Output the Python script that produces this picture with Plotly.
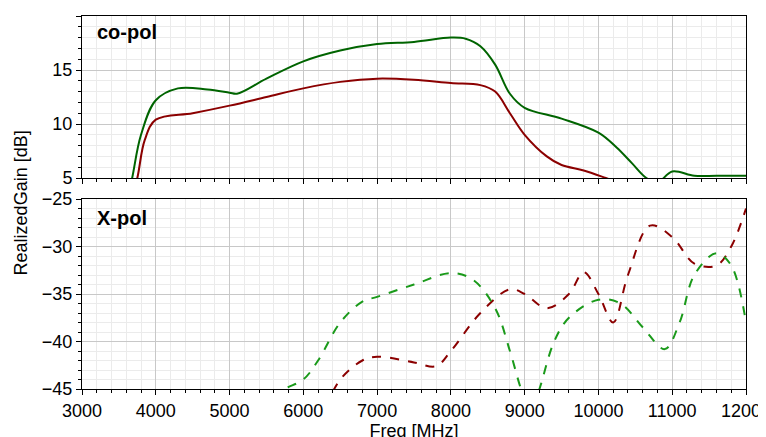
import plotly.graph_objects as go
from plotly.subplots import make_subplots

co_x_green = [3600, 3680, 3800, 4000, 4300, 4700, 5000, 5100, 5500, 6000, 6500, 7000, 7500, 8000, 8200, 8400, 8600, 8800, 9000, 9500, 10000, 10250, 10450, 10650, 10800, 11000, 11300, 11600, 12000]
co_y_green = [2.5, 5.0, 9.0, 12.2, 13.3, 13.2, 12.9, 12.8, 14.2, 15.8, 16.8, 17.4, 17.6, 18.0, 17.9, 17.2, 15.5, 12.8, 11.5, 10.5, 9.2, 7.8, 6.4, 5.0, 4.6, 5.6, 5.2, 5.2, 5.2]
co_x_red = [3650, 3750, 3850, 4000, 4500, 5000, 5500, 6000, 6500, 7000, 7500, 8000, 8400, 8600, 8800, 9000, 9300, 9500, 9800, 10100, 10300]
co_y_red = [2.5, 5.0, 8.5, 10.4, 11.0, 11.7, 12.5, 13.3, 13.9, 14.2, 14.1, 13.8, 13.6, 13.0, 11.0, 9.0, 7.0, 6.2, 5.7, 5.0, 4.5]

x_x_red = [6300, 6500, 6800, 7000, 7500, 7800, 8000, 8400, 8800, 9000, 9300, 9600, 9800, 10000, 10200, 10400, 10700, 11000, 11300, 11600, 11800, 12000]
x_y_red = [-47, -44, -42.0, -41.6, -42.2, -42.6, -41, -37, -34.5, -35, -36.5, -35, -32.7, -35, -38, -33, -27.8, -29, -31.8, -32, -30, -26]
x_x_green = [5600, 5750, 6000, 6200, 6500, 6800, 7000, 7500, 8000, 8300, 8600, 8800, 8950, 9050]
x_y_green = [-46, -45, -44, -42, -38, -35.8, -35.3, -34, -32.8, -33.5, -36.5, -41, -45, -47]
x_x_green2 = [9100, 9200, 9400, 9600, 10000, 10300, 10600, 10900, 11100, 11300, 11600, 11800, 12000]
x_y_green2 = [-47, -45, -40, -37.5, -35.6, -36, -38.5, -40.8, -38, -33, -30.7, -32, -38]

GREEN = "#006400"
RED = "#8b0000"
DGREEN = "#1a9a1a"
FONT = "Liberation Sans"

fig = make_subplots(rows=2, cols=1, shared_xaxes=True, vertical_spacing=0.055)
fig.add_trace(go.Scatter(x=co_x_green, y=co_y_green, mode="lines", line=dict(color=GREEN, width=2, shape="spline")), 1, 1)
fig.add_trace(go.Scatter(x=co_x_red, y=co_y_red, mode="lines", line=dict(color=RED, width=2, shape="spline")), 1, 1)
fig.add_trace(go.Scatter(x=x_x_red, y=x_y_red, mode="lines", line=dict(color=RED, width=2, dash="dash", shape="spline")), 2, 1)
fig.add_trace(go.Scatter(x=x_x_green, y=x_y_green, mode="lines", line=dict(color=DGREEN, width=2, dash="dash", shape="spline")), 2, 1)
fig.add_trace(go.Scatter(x=x_x_green2, y=x_y_green2, mode="lines", line=dict(color=DGREEN, width=2, dash="dash", shape="spline")), 2, 1)

ax = dict(showline=True, linecolor="black", linewidth=1, mirror=True, gridcolor="#c8c8c8",
          ticks="outside", ticklen=5, tickcolor="black", automargin=False,
          minor=dict(showgrid=True, gridcolor="#ebebeb", ticks="outside", ticklen=3, tickcolor="black"),
          tickfont=dict(size=18, color="black", family=FONT), zeroline=False)
fig.update_xaxes(**ax, range=[3000, 12000], dtick=1000, tickformat="d")
fig.update_xaxes(minor_dtick=200)
fig.update_xaxes(title=dict(text="Freq [MHz]", font=dict(size=18, color="black", family=FONT), standoff=0), row=2, col=1)
fig.update_yaxes(**ax, dtick=5, minor_dtick=1)
fig.update_yaxes(range=[5, 20], domain=[1 - 162/373, 1], row=1, col=1)
fig.update_yaxes(range=[-45, -25], domain=[0, 190/373], row=2, col=1)

fig.add_annotation(text="<b>co-pol</b>", xref="x domain", yref="y domain", x=0.02, y=0.98, xanchor="left", yanchor="top",
                   showarrow=False, font=dict(size=20, color="black", family=FONT))
fig.add_annotation(text="<b>X-pol</b>", xref="x2 domain", yref="y2 domain", x=0.02, y=0.97, xanchor="left", yanchor="top",
                   showarrow=False, font=dict(size=20, color="black", family=FONT))
fig.add_annotation(text="RealizedGain [dB]", xref="paper", yref="paper", x=-0.092, xanchor="center", y=0.5, textangle=-90,
                   showarrow=False, font=dict(size=18, color="black", family=FONT))

fig.update_layout(width=766, height=437, showlegend=False, plot_bgcolor="white", paper_bgcolor="white",
                  margin=dict(l=74, r=28, t=8, b=56, autoexpand=False))
fig.write_html("out.html")
